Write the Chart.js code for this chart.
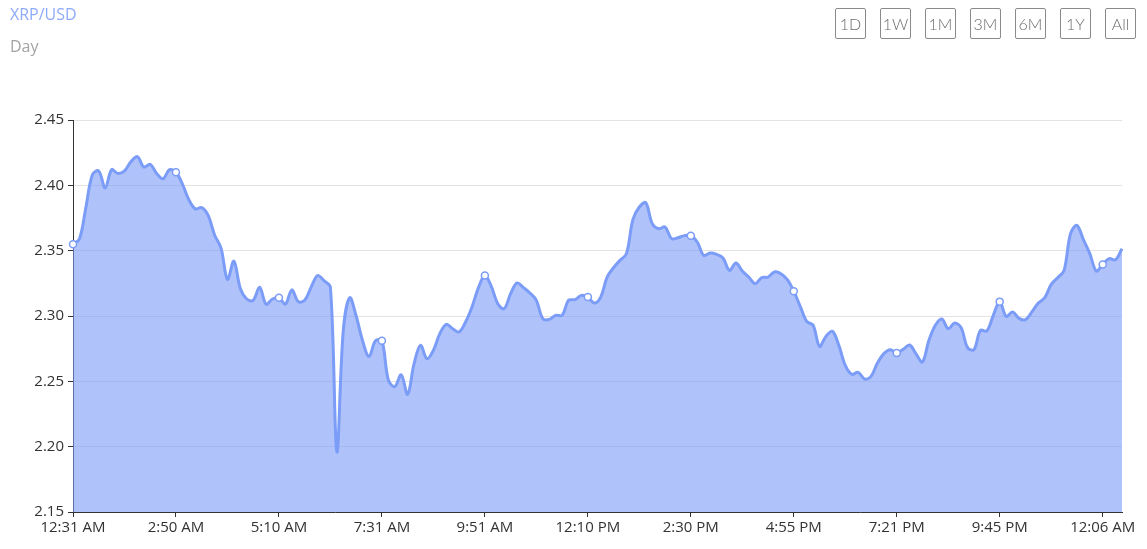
<!DOCTYPE html>
<html>
<head>
<meta charset="utf-8">
<script src="https://cdn.jsdelivr.net/npm/chart.js@4.4.1/dist/chart.umd.min.js"></script>
<style>
  html, body { margin: 0; padding: 0; background: #fff; }
  #wrap { position: relative; width: 1147px; height: 549px; overflow: hidden; font-family: "Open Sans", sans-serif; }
  #chart { position: absolute; left: 0; top: 0; }
  .title { position: absolute; left: 10px; top: 3px; font-size: 16px; color: #8eaafb; }
  .sub { position: absolute; left: 10px; top: 35px; font-size: 16px; color: #a3a3a3; }
  .btns { position: absolute; top: 8px; left: 835px; }
  .btn { position: absolute; top: 0; width: 29px; height: 29px; border: 1px solid #8a8a8a; border-radius: 2px;
         font-family: Lato, sans-serif; font-weight: 300; font-size: 16px; color: #6d6d6d;
         display: flex; align-items: center; justify-content: center; box-sizing: content-box; }
</style>
</head>
<body>
<div id="wrap">
  <canvas id="chart" width="1147" height="549"></canvas>
  <div class="title">XRP/USD</div>
  <div class="sub">Day</div>
  <div class="btns" id="btns"></div>
</div>
<script>
// Range buttons shown top right
const ranges = ['1D', '1W', '1M', '3M', '6M', '1Y', 'All'];

// Labels shown under the x axis (one every LABEL_STEP points)
const tickLabels = ['12:31 AM', '2:50 AM', '5:10 AM', '7:31 AM', '9:51 AM', '12:10 PM',
  '2:30 PM', '4:55 PM', '7:21 PM', '9:45 PM', '12:06 AM'];
const LABEL_STEP = 16;

// XRP price
const prices = [
  2.355, 2.359, 2.383, 2.408, 2.411, 2.398, 2.412, 2.409, 2.411, 2.418,
  2.422, 2.414, 2.416, 2.409, 2.405, 2.412, 2.410, 2.401, 2.389, 2.382,
  2.383, 2.377, 2.362, 2.352, 2.328, 2.342, 2.321, 2.313, 2.312, 2.322,
  2.309, 2.313, 2.314, 2.309, 2.320, 2.311, 2.312, 2.322, 2.331, 2.327,
  2.322, 2.196, 2.289, 2.314, 2.300, 2.281, 2.269, 2.281, 2.281, 2.251,
  2.246, 2.255, 2.240, 2.2635, 2.2776, 2.2673, 2.2737, 2.2865, 2.2936, 2.2903,
  2.2878, 2.2954, 2.3069, 2.3217, 2.331, 2.3227, 2.3094, 2.3056, 2.3171, 2.3253,
  2.3217, 2.3176, 2.312, 2.298, 2.2974, 2.3005, 2.3005, 2.312, 2.3125, 2.3158,
  2.3145, 2.3099, 2.3145, 2.3298, 2.337, 2.3426, 2.3477, 2.3737, 2.3834, 2.3867,
  2.3707, 2.3668, 2.3681, 2.3592, 2.3599, 2.3615, 2.3615, 2.3566, 2.3464, 2.3482,
  2.3472, 2.3444, 2.3349, 2.3406, 2.3345, 2.3298, 2.3247, 2.3293, 2.3298, 2.3337,
  2.3324, 2.3278, 2.319, 2.3074, 2.2959, 2.2929, 2.2768, 2.2844, 2.2883, 2.2776,
  2.2622, 2.2554, 2.2569, 2.2518, 2.2538, 2.264, 2.2712, 2.2742, 2.2717, 2.2745,
  2.2778, 2.271, 2.2648, 2.2814, 2.2929, 2.2977, 2.2903, 2.2946, 2.2911, 2.2758,
  2.2742, 2.289, 2.2885, 2.3005, 2.311, 2.2997, 2.3031, 2.2982, 2.2972, 2.3031,
  2.3099, 2.314, 2.3242, 2.3293, 2.3349, 2.363, 2.3694, 2.3584, 2.3477, 2.3344,
  2.3395, 2.3439, 2.3431, 2.3515
];

// Y axis range
const yMin = 2.15;
const yMax = 2.45;
const yStep = 0.05;

// Build the buttons
const btnBox = document.getElementById('btns');
ranges.forEach((r, i) => {
  const b = document.createElement('div');
  b.className = 'btn';
  b.style.left = (i * 45) + 'px';
  b.textContent = r;
  btnBox.appendChild(b);
});

// One category per price point, the label is only used for the shown ticks
const labels = prices.map((p, i) => i % LABEL_STEP === 0 ? tickLabels[i / LABEL_STEP] : '');

const axisColor = '#333';
const lineColor = '#7b9cf7';

const ctx = document.getElementById('chart').getContext('2d');
const chart = new Chart(ctx, {
  type: 'line',
  data: {
    labels: labels,
    datasets: [{
      data: prices,
      borderColor: lineColor,
      borderWidth: 3,
      backgroundColor: 'rgba(123, 153, 247, 0.6)',
      fill: 'start',
      tension: 0.35,
      pointRadius: (c) => (c.index % LABEL_STEP === 0 && c.index < prices.length - 1) ? 3.5 : 0,
      pointBackgroundColor: '#fff',
      pointBorderColor: lineColor,
      pointBorderWidth: 1.5,
      pointHoverRadius: 0
    }]
  },
  options: {
    responsive: false,
    animation: false,
    events: [],
    layout: { padding: { top: 120, right: 25, left: 0, bottom: 0 } },
    plugins: { legend: { display: false }, tooltip: { enabled: false } },
    scales: {
      x: {
        type: 'category',
        offset: false,
        border: { color: axisColor, width: 1 },
        grid: {
          drawOnChartArea: false,
          tickLength: 5,
          tickColor: (c) => c.index % LABEL_STEP === 0 ? axisColor : 'rgba(0,0,0,0)'
        },
        ticks: {
          autoSkip: false,
          maxRotation: 0,
          padding: 2,
          color: '#333',
          font: { family: 'Open Sans', size: 15 },
          callback: (v, i) => labels[i]
        },
        afterFit: (scale) => { scale.height = 37; }
      },
      y: {
        min: yMin,
        max: yMax,
        border: { color: axisColor, width: 1 },
        grid: { color: '#e3e3e3', tickLength: 5, tickColor: axisColor },
        ticks: {
          stepSize: yStep,
          padding: 4,
          color: '#333',
          font: { family: 'Open Sans', size: 15 },
          callback: (v) => v.toFixed(2)
        },
        afterFit: (scale) => { scale.width = 73; }
      }
    }
  }
});
</script>
</body>
</html>
